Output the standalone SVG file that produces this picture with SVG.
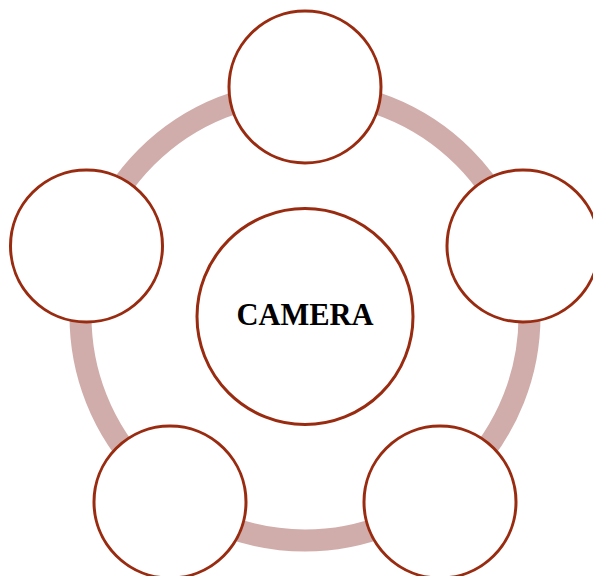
<svg xmlns="http://www.w3.org/2000/svg" width="593" height="576" viewBox="0 0 593 576">
<style>
.ring{fill:none;stroke:#d0adaa;stroke-width:22}
.node{fill:#ffffff;stroke:#982b10;stroke-width:3}
.lbl{font-family:"Liberation Serif",serif;font-weight:bold;font-size:30.5px;fill:#000;text-anchor:middle}
</style>
<rect width="593" height="576" fill="#ffffff"/>
<g id="connectors">
<circle class="ring" cx="305" cy="316" r="224.5"/>
</g>
<g id="center"><circle class="node" cx="305" cy="316.5" r="108"/><text class="lbl" x="305" y="325">CAMERA</text></g>
<g id="n-top"><circle class="node" cx="305" cy="87" r="76"/></g>
<g id="n-right"><circle class="node" cx="523" cy="246" r="76"/></g>
<g id="n-bottom-right"><circle class="node" cx="440" cy="502" r="76"/></g>
<g id="n-bottom-left"><circle class="node" cx="170" cy="502" r="76"/></g>
<g id="n-left"><circle class="node" cx="86.5" cy="246" r="76"/></g>
</svg>
